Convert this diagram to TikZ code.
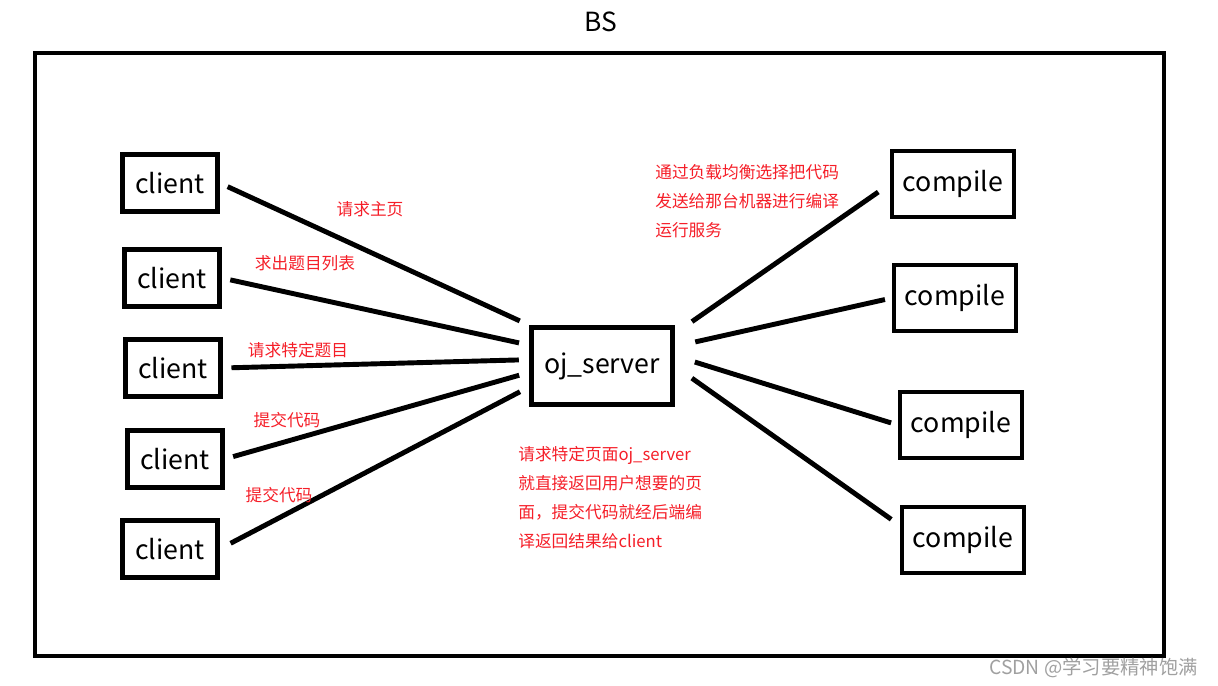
\documentclass[tikz,border=0pt]{standalone}
\usepackage{fontspec}
\setmainfont{Noto Sans CJK SC}
\usepackage{xcolor}
\definecolor{notered}{RGB}{245,30,40}
\definecolor{markgray}{RGB}{160,160,160}

\begin{document}
\begin{tikzpicture}[
    x=0.02cm,
    y=-0.02cm,
    box/.style={
        draw,
        line width=2.5pt,
        font=\fontsize{15.2}{18}\selectfont,
        inner sep=0pt
    },
    clientbox/.style={
        box,
        minimum width=1.9cm,
        minimum height=1.14cm
    },
    compilebox/.style={
        box,
        minimum width=2.44cm,
        minimum height=1.32cm
    },
    link/.style={
        line width=2.8pt,
        shorten >=6pt,
        shorten <=5pt
    },
    note/.style={
        text=notered,
        font=\fontsize{9.5}{16.5}\selectfont,
        align=left,
        inner sep=0pt
    }
]

\useasboundingbox (0,0) rectangle (1218,686);

% Frame and title
\draw[
    line width=2.4pt
] (35,53) rectangle (1164,656);

\node[
    font=\fontsize{15}{18}\selectfont
] (title) at (601,22) {
    BS
};

% Clients
\node[clientbox] (client1) at (170,183) {client};
\node[clientbox] (client2) at (172,278) {client};
\node[clientbox] (client3) at (173,368) {client};
\node[clientbox] (client4) at (175,459) {client};
\node[clientbox] (client5) at (170,549) {client};

% Server
\node[
    box,
    minimum width=2.82cm,
    minimum height=1.54cm
] (oj) at (602,366) {
    oj\_server
};

% Compile machines
\node[compilebox] (compile1) at (953,184) {compile};
\node[compilebox] (compile2) at (955,298) {compile};
\node[compilebox] (compile3) at (961,425) {compile};
\node[compilebox] (compile4) at (963,540) {compile};

% Client links
\draw[link] (client1.east) -- (oj.north west);
\draw[link] (client2.east) -- (oj.164);
\draw[link] (client3.east) -- (oj.175);
\draw[link] (client4.east) -- (oj.185);
\draw[link, shorten <=7pt] (client5.east) -- (oj.196);

% Compile links
\draw[link, shorten <=12pt, shorten >=8pt] (oj.24) -- (compile1.west);
\draw[link, shorten <=12pt, shorten >=4pt] (oj.15) -- (compile2.west);
\draw[link, shorten <=12pt, shorten >=4pt] (oj.8) -- (compile3.west);
\draw[link, shorten <=12pt, shorten >=6pt] (oj.0) -- (compile4.167);

% Notes
\node[note] (home) at (370,209) {请求主页};
\node[note] (list) at (305,263) {求出题目列表};
\node[note] (problem) at (298,350) {请求特定题目};
\node[note] (submit1) at (287,420) {提交代码};
\node[note] (submit2) at (279,495) {提交代码};

\node[
    note,
    anchor=north west
] (balance) at (655,164) {
    通过负载均衡选择把代码\\
    发送给那台机器进行编译\\
    运行服务
};

\node[
    note,
    anchor=north west
] (reply) at (518,446) {
    请求特定页面oj\_server\\
    就直接返回用户想要的页\\
    面，提交代码就经后端编\\
    译返回结果给client
};

% Watermark
\node[
    text=markgray,
    font=\fontsize{11}{13}\selectfont,
    anchor=east
] (mark) at (1204,668) {
    CSDN @学习要精神饱满
};

\end{tikzpicture}
\end{document}
